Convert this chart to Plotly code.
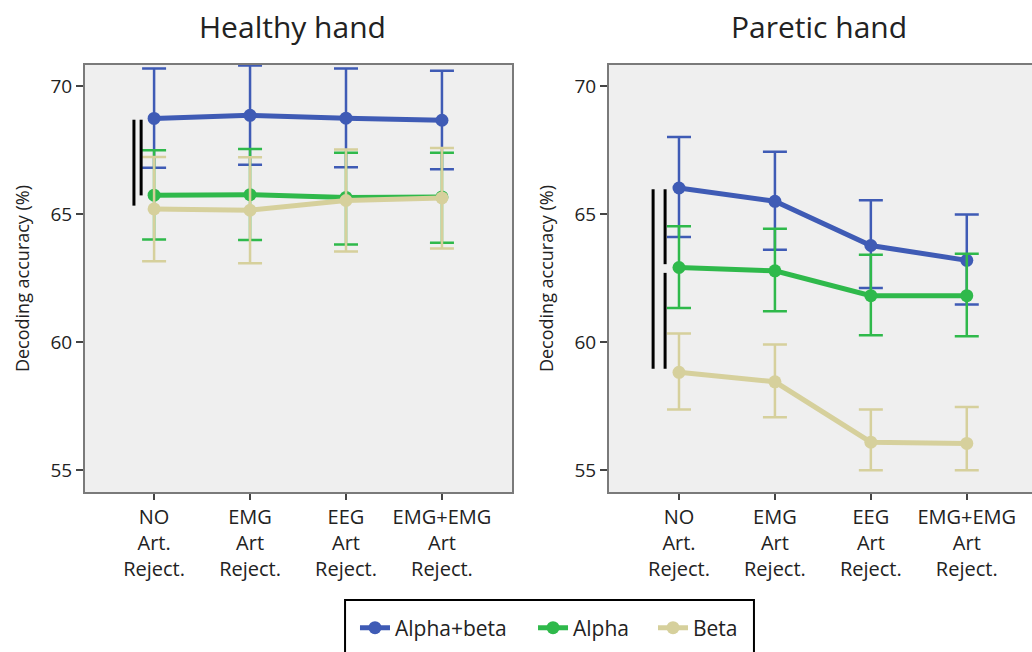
import plotly.graph_objects as go

# Conditions on the x axis
categories = ["NO<br>Art.<br>Reject.", "EMG<br>Art<br>Reject.", "EEG<br>Art<br>Reject.", "EMG+EMG<br>Art<br>Reject."]
series_names = ["Alpha+beta", "Alpha", "Beta"]

# Healthy hand: mean decoding accuracy (%) and error-bar limits
healthy_mean = {
    "Alpha+beta": [68.75, 68.87, 68.76, 68.68],
    "Alpha": [65.75, 65.77, 65.66, 65.68],
    "Beta": [65.21, 65.16, 65.54, 65.64],
}
healthy_upper = {
    "Alpha+beta": [70.70, 70.82, 70.70, 70.62],
    "Alpha": [67.51, 67.55, 67.41, 67.41],
    "Beta": [67.24, 67.23, 67.54, 67.59],
}
healthy_lower = {
    "Alpha+beta": [66.82, 66.94, 66.84, 66.76],
    "Alpha": [64.02, 64.00, 63.82, 63.89],
    "Beta": [63.16, 63.09, 63.55, 63.66],
}

# Paretic hand
paretic_mean = {
    "Alpha+beta": [66.03, 65.51, 63.78, 63.20],
    "Alpha": [62.92, 62.79, 61.82, 61.82],
    "Beta": [58.82, 58.45, 56.09, 56.04],
}
paretic_upper = {
    "Alpha+beta": [68.02, 67.45, 65.55, 64.99],
    "Alpha": [64.53, 64.44, 63.42, 63.46],
    "Beta": [60.34, 59.91, 57.37, 57.46],
}
paretic_lower = {
    "Alpha+beta": [64.11, 63.61, 62.12, 61.47],
    "Alpha": [61.34, 61.21, 60.27, 60.23],
    "Beta": [57.37, 57.06, 54.99, 54.99],
}

# Significance brackets (y spans in %)
healthy_sig = [(68.70, 65.34), (68.70, 65.74)]
paretic_sig = [(65.98, 58.96), (65.98, 63.05), (62.71, 58.96)]

colors = {"Alpha+beta": "#3f5bb5", "Alpha": "#2fb94b", "Beta": "#d6d09c"}
FONT = "Open Sans"
xs = list(range(len(categories)))

# One legend per series so each entry can sit at its own spot inside a shared box
legend_ids = {"Alpha+beta": "legend", "Alpha": "legend2", "Beta": "legend3"}
legend_x = {"Alpha+beta": 0.2851, "Alpha": 0.4731, "Beta": 0.5998}
LEGEND_Y = -0.3185

fig = go.Figure()


def add_panel(mean, upper, lower, xa, ya, show_legend):
    for name in series_names:
        m = mean[name]
        fig.add_trace(go.Scatter(
            x=xs, y=m, mode="lines+markers", name=name,
            xaxis=xa, yaxis=ya, showlegend=show_legend, legend=legend_ids[name],
            line=dict(color=colors[name], width=5),
            marker=dict(color=colors[name], size=13),
            error_y=dict(
                type="data", symmetric=False,
                array=[u - v for u, v in zip(upper[name], m)],
                arrayminus=[v - l for v, l in zip(m, lower[name])],
                color=colors[name], thickness=2.5, width=12,
            ),
        ))


add_panel(healthy_mean, healthy_upper, healthy_lower, "x", "y", True)
add_panel(paretic_mean, paretic_upper, paretic_lower, "x2", "y2", False)

# Black significance bars left of the first condition
sig_offsets_left = [-0.21, -0.135]
for (top, bot), off in zip(healthy_sig, sig_offsets_left):
    fig.add_shape(type="line", xref="x", yref="y", x0=off, x1=off, y0=bot, y1=top,
                  line=dict(color="black", width=3))
sig_offsets_right = [-0.27, -0.145, -0.145]
for (top, bot), off in zip(paretic_sig, sig_offsets_right):
    fig.add_shape(type="line", xref="x2", yref="y2", x0=off, x1=off, y0=bot, y1=top,
                  line=dict(color="black", width=3))

# Frame around the legend entries
fig.add_shape(type="rect", xref="paper", yref="paper",
              x0=0.2746, x1=0.7064, y0=-0.2529, y1=-0.40,
              line=dict(color="black", width=2), fillcolor="rgba(0,0,0,0)", layer="above")

xcommon = dict(
    tickmode="array", tickvals=xs, ticktext=categories,
    tickfont=dict(family=FONT, size=20, color="#222"),
    ticks="outside", ticklen=6, tickcolor="#444", tickwidth=1.5,
    showgrid=False, zeroline=False, showline=True, linecolor="#7a7a7a", linewidth=2,
)
ycommon = dict(
    tickmode="array", tickvals=[55, 60, 65, 70],
    tickfont=dict(family=FONT, size=19, color="#222"),
    ticks="outside", ticklen=7, tickcolor="#444", tickwidth=1.5,
    showgrid=False, zeroline=False, showline=True, linecolor="#7a7a7a", linewidth=2,
    range=[54.14, 70.84],
    title=dict(text="Decoding accuracy (%)",
               font=dict(family=FONT, size=18, color="#222"), standoff=16),
)


def legend_style(name):
    return dict(
        orientation="h", x=legend_x[name], xanchor="left", y=LEGEND_Y, yanchor="middle",
        borderwidth=0, bgcolor="rgba(0,0,0,0)",
        font=dict(family=FONT, size=21, color="#222"),
    )


fig.update_layout(
    width=1032, height=652,
    margin=dict(l=85, r=0, t=65, b=160),
    paper_bgcolor="white", plot_bgcolor="#efefef",
    font=dict(family=FONT, color="#222"),
    xaxis=dict(domain=[0, 0.4509], range=[-0.72, 3.73], mirror=True, **xcommon),
    yaxis=dict(anchor="x", mirror=True, **ycommon),
    xaxis2=dict(domain=[0.5533, 1.0], range=[-0.73, 3.68], anchor="y2", mirror=True, **xcommon),
    yaxis2=dict(anchor="x2", **ycommon),
    legend=legend_style("Alpha+beta"),
    legend2=legend_style("Alpha"),
    legend3=legend_style("Beta"),
    annotations=[
        dict(text="Healthy hand", x=0.2196, y=1.091, xref="paper", yref="paper",
             xanchor="center", yanchor="middle", showarrow=False,
             font=dict(family=FONT, size=30, color="#222")),
        dict(text="Paretic hand", x=0.7756, y=1.091, xref="paper", yref="paper",
             xanchor="center", yanchor="middle", showarrow=False,
             font=dict(family=FONT, size=30, color="#222")),
    ],
)

fig.write_html("out.html")
